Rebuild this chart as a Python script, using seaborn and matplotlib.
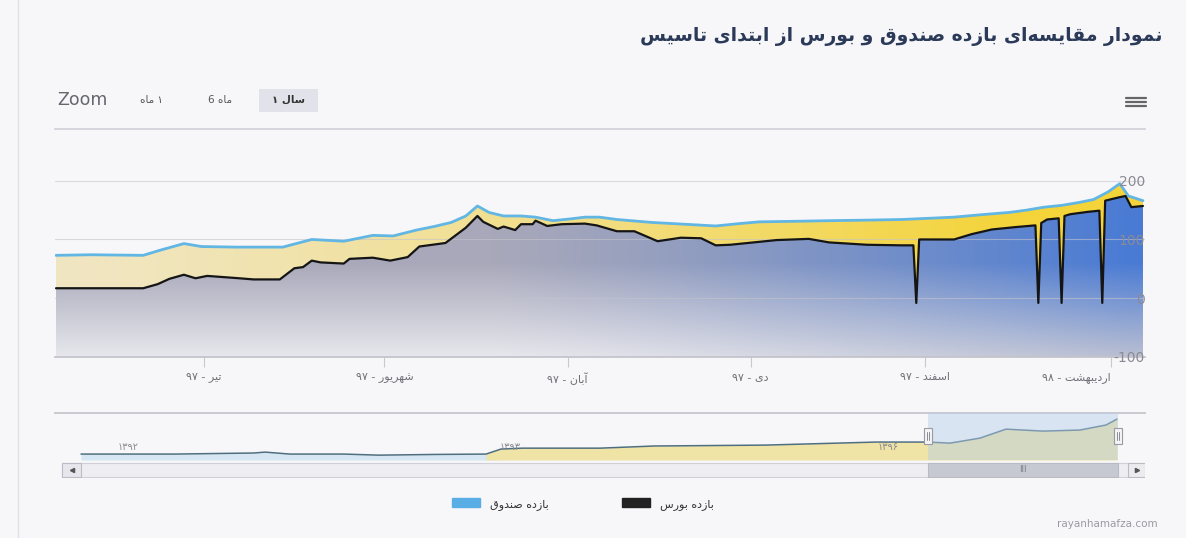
import re
import numpy as np
import matplotlib
matplotlib.use('Agg')
import matplotlib.pyplot as plt
import matplotlib.transforms as mtransforms
from matplotlib.patches import Rectangle, Patch
from matplotlib.colors import to_rgb
import seaborn as sns

# --- data ---
fund_day = [0, 12, 30, 36, 44, 50, 62, 78, 88, 99, 109, 116, 124, 130, 136, 141, 145, 149,
            154, 160, 165, 171, 177, 182, 187, 193, 205, 216, 227, 235, 242, 255, 266, 280,
            291, 300, 309, 318, 328, 334, 340, 346, 352, 357, 362, 366, 369, 374]
fund_val = [73, 74, 73, 82, 93, 88, 87, 87, 100, 97, 107, 106, 116, 122, 129, 140, 157, 146,
            140, 140, 138, 132, 135, 138, 138, 134, 129, 126, 123, 127, 130, 131, 132, 133,
            134, 136, 138, 142, 146, 150, 155, 158, 163, 168, 181, 195, 174, 166]

bourse_day = [0, 30, 35, 39, 44, 48, 52, 63, 68, 77, 82, 85, 88, 91, 99, 101, 109, 115, 121,
              125, 134, 141, 145, 147, 152, 154, 158, 160, 164, 165, 169, 174, 182, 186, 193,
              199, 207, 215, 222, 227, 232, 248, 259, 266, 279, 291, 295, 296, 297, 309, 315,
              322, 330, 337, 338, 339, 341, 345, 346, 347, 349, 355, 359, 360, 361, 366, 368,
              370, 374]
bourse_val = [17, 17, 24, 33, 40, 34, 38, 34, 32, 32, 51, 53, 64, 61, 59, 67, 69, 64, 70,
              88, 94, 120, 140, 130, 118, 122, 116, 126, 126, 132, 123, 126, 127, 124, 114,
              114, 97, 103, 102, 90, 91, 99, 101, 95, 91, 90, 90, -8, 100, 100, 109,
              117, 121, 124, -8, 128, 134, 136, -8, 140, 143, 147, 149, -8, 166, 172, 174,
              155, 157]

tick_day = [51, 113, 176, 239, 299, 363]
tick_label = ['تیر - ۹۷', 'شهریور - ۹۷', 'آبان - ۹۷', 'دی - ۹۷', 'اسفند - ۹۷', 'اردیبهشت - ۹۸']
y_ticks = [-100, 0, 100, 200]

# navigator (ordinal positions along the whole history)
nav_pos = [26, 120, 199, 210, 235, 289, 324, 380, 431, 446, 467, 545, 599, 710, 821, 873,
           895, 925, 951, 988, 1025, 1051, 1062]
nav_val = [0, 0, 6, 11, 0, 0, -6, -2, 0, 28, 33, 33, 45, 50, 67, 67, 61, 89, 139, 128, 134,
           162, 195]
nav_window = [873, 1063]
nav_year_pos = [73, 455, 833]
nav_year_label = ['۱۳۹۲', '۱۳۹۳', '۱۳۹۶']

title = 'نمودار مقایسه‌ای بازده صندوق و بورس از ابتدای تاسیس'
range_buttons = ['۱ ماه', 'ماه 6', 'سال ۱']
legend_labels = ['بازده صندوق', 'بازده بورس']
legend_colors = ['#5aaee6', '#222222']

# --- simple persian shaping (matplotlib has no complex text layout) ---
FORMS = {
    'ا': ('\uFE8D', '\uFE8E', None, None), 'آ': ('\uFE81', '\uFE82', None, None),
    'ب': ('\uFE8F', '\uFE90', '\uFE91', '\uFE92'), 'پ': ('\uFB56', '\uFB57', '\uFB58', '\uFB59'),
    'ت': ('\uFE95', '\uFE96', '\uFE97', '\uFE98'), 'د': ('\uFEA9', '\uFEAA', None, None),
    'ر': ('\uFEAD', '\uFEAE', None, None), 'ز': ('\uFEAF', '\uFEB0', None, None),
    'س': ('\uFEB1', '\uFEB2', '\uFEB3', '\uFEB4'), 'ش': ('\uFEB5', '\uFEB6', '\uFEB7', '\uFEB8'),
    'ص': ('\uFEB9', '\uFEBA', '\uFEBB', '\uFEBC'), 'ف': ('\uFED1', '\uFED2', '\uFED3', '\uFED4'),
    'ق': ('\uFED5', '\uFED6', '\uFED7', '\uFED8'), 'ل': ('\uFEDD', '\uFEDE', '\uFEDF', '\uFEE0'),
    'م': ('\uFEE1', '\uFEE2', '\uFEE3', '\uFEE4'), 'ن': ('\uFEE5', '\uFEE6', '\uFEE7', '\uFEE8'),
    'و': ('\uFEED', '\uFEEE', None, None), 'ه': ('\uFEE9', '\uFEEA', '\uFEEB', '\uFEEC'),
    'ی': ('\uFBFC', '\uFBFD', '\uFBFE', '\uFBFF'),
}


def shape(s):
    out = []
    for i, ch in enumerate(s):
        f = FORMS.get(ch)
        if f is None:
            out.append(ch)
            continue
        prev = s[i - 1] if i > 0 else ''
        nxt = s[i + 1] if i < len(s) - 1 else ''
        jp = prev in FORMS and FORMS[prev][2] is not None
        jn = f[2] is not None and nxt in FORMS
        out.append(f[3] if (jp and jn) else f[2] if jn else f[1] if jp else f[0])
    return ''.join(c for c in out if c != '\u200c')


def fa(s):
    runs = re.findall(r'[0-9\u06F0-\u06F9]+|[^0-9\u06F0-\u06F9]+', shape(s))
    return ''.join(r if re.match(r'[0-9\u06F0-\u06F9]', r) else r[::-1] for r in reversed(runs))


W, H = 1186, 538
def fx(p): return p / W
def fy(p): return 1 - p / H

sns.set_theme(style='white')
plt.rcParams['font.family'] = ['DejaVu Sans']
bg = '#f7f7fa'

fig = plt.figure(figsize=(W / 100, H / 100), dpi=100, facecolor=bg)

# main chart
ax = fig.add_axes([fx(55), fy(357), fx(1145) - fx(55), fy(129) - fy(357)])
ax.set_facecolor(bg)
x0, x1 = -0.35, 374.7
ytop = 288
xs = np.linspace(x0, x1, 600)
ys = np.linspace(-100, ytop, 300)
X, Y = np.meshgrid(xs, ys)

def lerp(a, b, t):
    a, b = np.array(to_rgb(a)), np.array(to_rgb(b))
    return a + (b - a) * t[..., None]

# yellow area of the fund (behind)
ty_x = np.clip(X / 330, 0, 1) ** 1.3
yel = lerp('#f0e6c2', '#f4d43a', ty_x)
poly_f = ax.fill_between(fund_day, fund_val, -100, color='none', lw=0)
im1 = ax.imshow(yel, extent=(x0, x1, -100, ytop), origin='lower', aspect='auto', zorder=1)
im1.set_clip_path(poly_f.get_paths()[0], transform=ax.transData)

# grey/blue area of the bourse (front)
tx = np.clip((X - 150) / 220, 0, 1) ** 1.2
ty = np.clip((60 - Y) / 160, 0, 1)
top_c = lerp('#a8a8ba', '#4a7bd4', tx)
bot_c = lerp('#e7e7ed', '#babfd2', tx)
gb = top_c + (bot_c - top_c) * ty[..., None]
poly_b = ax.fill_between(bourse_day, bourse_val, -100, color='none', lw=0)
im2 = ax.imshow(gb, extent=(x0, x1, -100, ytop), origin='lower', aspect='auto', zorder=2)
im2.set_clip_path(poly_b.get_paths()[0], transform=ax.transData)

for v in y_ticks[1:]:
    ax.axhline(v, color='#c4c4cc', lw=0.8, alpha=0.6, zorder=3)

sns.lineplot(x=fund_day, y=fund_val, ax=ax, color='#62b6e4', lw=2.0, zorder=5)
sns.lineplot(x=bourse_day, y=bourse_val, ax=ax, color='#151515', lw=1.6, zorder=6)

ax.set_xlim(x0, x1)
ax.set_ylim(-100, ytop)
for s in ['left', 'right']:
    ax.spines[s].set_visible(False)
ax.spines['top'].set_color('#d2d2da')
ax.spines['bottom'].set_color('#c2c2ca')
ax.yaxis.tick_right()
ax.set_yticks(y_ticks, [str(v) for v in y_ticks], ha='right')
ax.tick_params(axis='y', length=0, pad=0, labelsize=10, labelcolor='#8a8a94')
ax.yaxis.set_zorder(8)
ax.set_xticks(tick_day, [fa(t) for t in tick_label])
ax.tick_params(axis='x', length=7, width=0.8, color='#c8c8d0', pad=4, labelsize=8,
               labelcolor='#707078', bottom=True)
ax.get_xticklabels()[-1].set_ha('right')
ax.set_xlabel('')
ax.set_ylabel('')

# navigator
axn = fig.add_axes([fx(55), fy(460), fx(1145) - fx(55), fy(413) - fy(460)])
axn.set_facecolor(bg)
npos = np.array(nav_pos)
nval = np.array(nav_val)
left = npos <= 446
right = npos >= 431
axn.fill_between(npos[left], nval[left], -33, color='#d6e7f3', lw=0)
axn.fill_between(npos[right], nval[right], -33, color='#efe3a6', lw=0)
sns.lineplot(x=nav_pos, y=nav_val, ax=axn, color='#4f6f80', lw=1.1)
axn.axvspan(nav_window[0], nav_window[1], color='#b4cde8', alpha=0.45, lw=0, zorder=3)
tr = mtransforms.blended_transform_factory(axn.transData, axn.transAxes)
for hx in nav_window:
    axn.add_patch(Rectangle((hx - 4, 0.34), 8, 0.34, transform=tr, facecolor='#f4f4f6',
                            edgecolor='#9a9aa2', lw=0.8, zorder=5))
    for dx in (-1.3, 1.3):
        axn.plot([hx + dx, hx + dx], [0.42, 0.6], transform=tr, color='#8a8a92', lw=0.7, zorder=6)
for p, lab in zip(nav_year_pos, nav_year_label):
    axn.text(p, 0.27, lab, transform=tr, fontsize=7, color='#8a8a92', ha='center', va='center')
axn.set_xlim(0, 1090)
axn.set_ylim(-33, 229)
axn.set_xticks([])
axn.set_yticks([])
for s in ['left', 'right', 'bottom']:
    axn.spines[s].set_visible(False)
axn.spines['top'].set_color('#c4c4cc')
axn.set_xlabel('')
axn.set_ylabel('')

# scrollbar
axs = fig.add_axes([fx(55), fy(478), fx(1145) - fx(55), fy(462) - fy(478)])
axs.set_xlim(0, 1090)
axs.set_ylim(0, 1)
axs.axis('off')
axs.add_patch(Rectangle((7, 0.05), 1083, 0.9, facecolor='#eeeef2', edgecolor='#d0d0d6', lw=0.8))
axs.add_patch(Rectangle((nav_window[0], 0.05), nav_window[1] - nav_window[0], 0.9,
                        facecolor='#c6c9d2', edgecolor='#b8bbc4', lw=0.8))
axs.text(sum(nav_window) / 2, 0.5, 'III', fontsize=6, color='#7a7a82', ha='center', va='center')
axs.add_patch(Rectangle((7, 0.05), 19, 0.9, facecolor='#e6e6ec', edgecolor='#bcbcc4', lw=0.8))
axs.add_patch(Rectangle((1073, 0.05), 17, 0.9, facecolor='#ececf0', edgecolor='#bcbcc4', lw=0.8))
axs.plot([16.5], [0.5], marker='<', ms=3, color='#555')
axs.plot([1081.5], [0.5], marker='>', ms=3, color='#555')

# header: title, range selector, menu icon
fig.text(fx(1163), fy(37), fa(title), fontsize=13.5, color='#2b3a58', ha='right', va='center',
         fontweight='bold')
fig.text(fx(57), fy(100), 'Zoom', fontsize=12.5, color='#66666e', ha='left', va='center')
fig.patches.append(Rectangle((fx(259), fy(112)), fx(318) - fx(259), fy(89) - fy(112),
                             transform=fig.transFigure, facecolor='#e2e2ea', edgecolor='none'))
for cx, lab in zip([152, 220, 288], range_buttons):
    fig.text(fx(cx), fy(100), fa(lab), fontsize=7.5, color='#333' if cx == 288 else '#555',
             ha='center', va='center', fontweight='bold' if cx == 288 else 'normal')
for yy in (98, 102, 106):
    fig.add_artist(plt.Line2D([fx(1126), fx(1146)], [fy(yy), fy(yy)], color='#666', lw=1.6))
fig.add_artist(plt.Line2D([fx(18), fx(18)], [0, 1], color='#e2e2e8', lw=1))

# legend
handles = [Patch(facecolor=c, edgecolor=c) for c in legend_colors]
fig.legend(handles, [fa(l) for l in legend_labels], loc='center', ncol=2,
           bbox_to_anchor=(fx(583), fy(504)), frameon=False, fontsize=8,
           handlelength=2.5, handleheight=0.8, handletextpad=0.9, columnspacing=6.6,
           labelcolor='#333')

fig.text(fx(1158), fy(524), 'rayanhamafza.com', fontsize=7.5, color='#9a9aa2', ha='right',
         va='center')

fig.savefig('out.png', dpi=100, facecolor=bg)
